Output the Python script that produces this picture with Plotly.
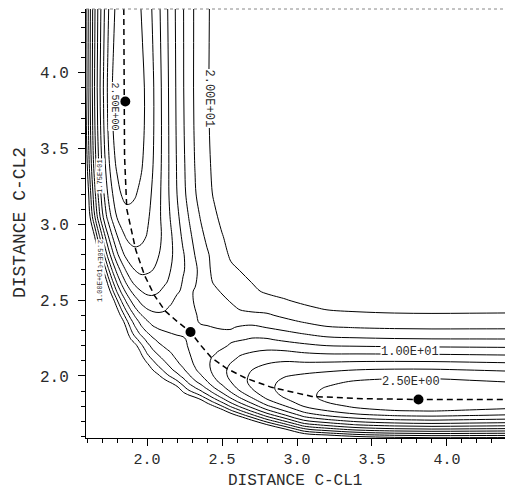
import numpy as np
import plotly.graph_objects as go

# ---- values ----
# reaction path (dashed curve), lower-right half: C-Cl1, C-Cl2 and energy along it
path_x_half = [2.29, 2.36, 2.43, 2.53, 2.66, 2.83, 3.10, 3.45, 3.81, 4.42]
path_y_half = [2.29, 2.20, 2.12, 2.05, 1.985, 1.925, 1.865, 1.85, 1.845, 1.845]
path_e_half = [14.85, 14.2, 12.5, 10.0, 7.5, 5.0, 2.5, 0.6, 0.0, 1.0]
# energy plateau (upper right, blank region)
plateau_e = 22.0
# stretched side of the valley: distance from valley -> fraction of rise to plateau
stretch_d = [0.0, 0.05, 0.10, 0.15, 0.20, 0.25, 0.30, 0.35, 0.40, 0.45, 0.50, 0.60, 0.70, 0.85, 1.0, 5.0]
stretch_f = [0.0, 0.012, 0.053, 0.125, 0.222, 0.336, 0.458, 0.576, 0.684, 0.775, 0.848, 0.94, 0.981, 0.998, 1.0, 1.0]
stretch_scale_e = [0.0, 14.85]
stretch_scale = [1.0, 1.24]
# compressed side of the valley: distance from valley -> energy rise
comp_d = [0.0, 0.04, 0.08, 0.12, 0.16, 0.20, 0.25, 0.30, 0.40, 0.60, 1.0, 3.0]
comp_e = [0.0, 0.62, 2.5, 5.6, 10.0, 15.6, 24.4, 35.1, 62.4, 140.0, 390.0, 3510.0]
comp_scale_e = [0.0, 5.0, 10.0, 14.85]
comp_scale = [1.0, 0.842, 0.553, 0.192]
# stationary points (filled dots)
stat_x = [1.855, 2.29, 3.81]
stat_y = [3.81, 2.29, 1.845]
# grid and contour levels
grid_pts = [1.59, 1.62, 1.65, 1.68, 1.71, 1.74, 1.77, 1.80, 1.83, 1.86, 1.89, 1.92, 1.96,
            2.00, 2.04, 2.08, 2.12, 2.16, 2.20, 2.24, 2.28, 2.32, 2.36, 2.40, 2.45, 2.50,
            2.56, 2.62, 2.70, 2.80, 2.92, 3.05, 3.20, 3.40, 3.65, 3.90, 4.15, 4.42]
levels = [2.5, 25.0, 2.5]
tick_vals = [2.0, 2.5, 3.0, 3.5, 4.0]
tick_text = ["2.0", "2.5", "3.0", "3.5", "4.0"]

# full path (mirror of the lower-right half)
px_full = path_y_half[::-1] + path_x_half[1:]
py_full = path_x_half[::-1] + path_y_half[1:]
pe_full = path_e_half[::-1] + path_e_half[1:]

# build the energy grid from the tables above
g = np.array(grid_pts)
X, Y = np.meshgrid(g, g)
best = np.full(X.shape, np.inf)
sd = np.zeros(X.shape)
V = np.zeros(X.shape)
for i in range(len(px_full) - 1):
    ax_, ay_ = px_full[i], py_full[i]
    tx, ty = px_full[i + 1] - ax_, py_full[i + 1] - ay_
    t = np.clip(((X - ax_) * tx + (Y - ay_) * ty) / (tx * tx + ty * ty), 0, 1)
    rx, ry = X - (ax_ + t * tx), Y - (ay_ + t * ty)
    d2 = rx * rx + ry * ry
    m = d2 < best
    best = np.where(m, d2, best)
    sd = np.where(m, np.sign(tx * ry - ty * rx) * np.sqrt(d2), sd)
    V = np.where(m, pe_full[i] + t * (pe_full[i + 1] - pe_full[i]), V)

s_fac = np.interp(V, stretch_scale_e, stretch_scale)
rise = (plateau_e - V) * np.interp(np.clip(sd, 0, None) / s_fac, stretch_d, stretch_f)
c_fac = np.interp(V, comp_scale_e, comp_scale)
wall = c_fac * np.interp(np.clip(-sd, 0, None), comp_d, comp_e)
Z = np.clip(V + rise + wall, None, 30.0)
Z = 0.5 * (Z + Z.T)

FONT = "Liberation Mono"
INK = "#2a2a2a"

fig = go.Figure()
fig.add_trace(go.Contour(
    x=grid_pts, y=grid_pts, z=Z,
    contours=dict(start=levels[0], end=levels[1], size=levels[2], coloring="none", showlabels=False),
    line=dict(color="black", width=1, smoothing=1.0),
    showscale=False, hoverinfo="skip"))
fig.add_trace(go.Scatter(x=px_full, y=py_full, mode="lines",
                         line=dict(color="black", width=1.5, dash="6px,4px"),
                         hoverinfo="skip"))
fig.add_trace(go.Scatter(x=stat_x, y=stat_y, mode="markers",
                         marker=dict(color="black", size=10)))

labels = [
    ("2.50E+00", 1.784, 3.78, 90, 10),
    ("2.00E+01", 2.413, 3.83, 90, 12),
    ("1.00E+01", 3.753, 2.158, 0, 12),
    ("2.50E+00", 3.76, 1.96, 0, 12),
    ("1.75E+01", 1.687, 3.32, -90, 7),
    ("2.50E+01", 1.687, 2.785, 90, 7),
    ("1.00E+01", 1.687, 2.60, -90, 7),
]
for txt, lx, ly, ang, fs in labels:
    fig.add_annotation(x=lx, y=ly, text=txt, textangle=ang, showarrow=False,
                       font=dict(family=FONT, size=fs, color=INK),
                       bgcolor="white", borderpad=0)

fig.add_annotation(xref="paper", yref="paper", x=0.499, y=-0.1, text="DISTANCE C-CL1",
                   showarrow=False, font=dict(family=FONT, size=16, color=INK),
                   xanchor="center", yanchor="middle")
fig.add_annotation(xref="paper", yref="paper", x=-0.1575, y=0.501, text="DISTANCE C-CL2",
                   textangle=-90, showarrow=False, font=dict(family=FONT, size=18, color=INK),
                   xanchor="center", yanchor="middle")
fig.add_shape(type="line", xref="paper", yref="paper", x0=0, x1=1, y0=1, y1=1,
              line=dict(color="#888", width=1, dash="dot"))

axis_common = dict(showline=True, linecolor="black", linewidth=1, ticks="outside",
                   ticklen=7, tickwidth=1, tickcolor="black", showgrid=False, zeroline=False,
                   tickvals=tick_vals, ticktext=tick_text,
                   minor=dict(dtick=0.1, ticks="outside", ticklen=4, tickcolor="black"))
fig.update_layout(
    width=507, height=490, margin=dict(l=86, r=2, t=9, b=52),
    paper_bgcolor="white", plot_bgcolor="white", showlegend=False,
    xaxis=dict(range=[1.593, 4.387], ticklabelstandoff=0,
               tickfont=dict(family=FONT, size=15, color=INK), **axis_common),
    yaxis=dict(range=[1.591, 4.42], ticklabelstandoff=6,
               tickfont=dict(family=FONT, size=16, color=INK), **axis_common),
)
fig.write_html("out.html")
